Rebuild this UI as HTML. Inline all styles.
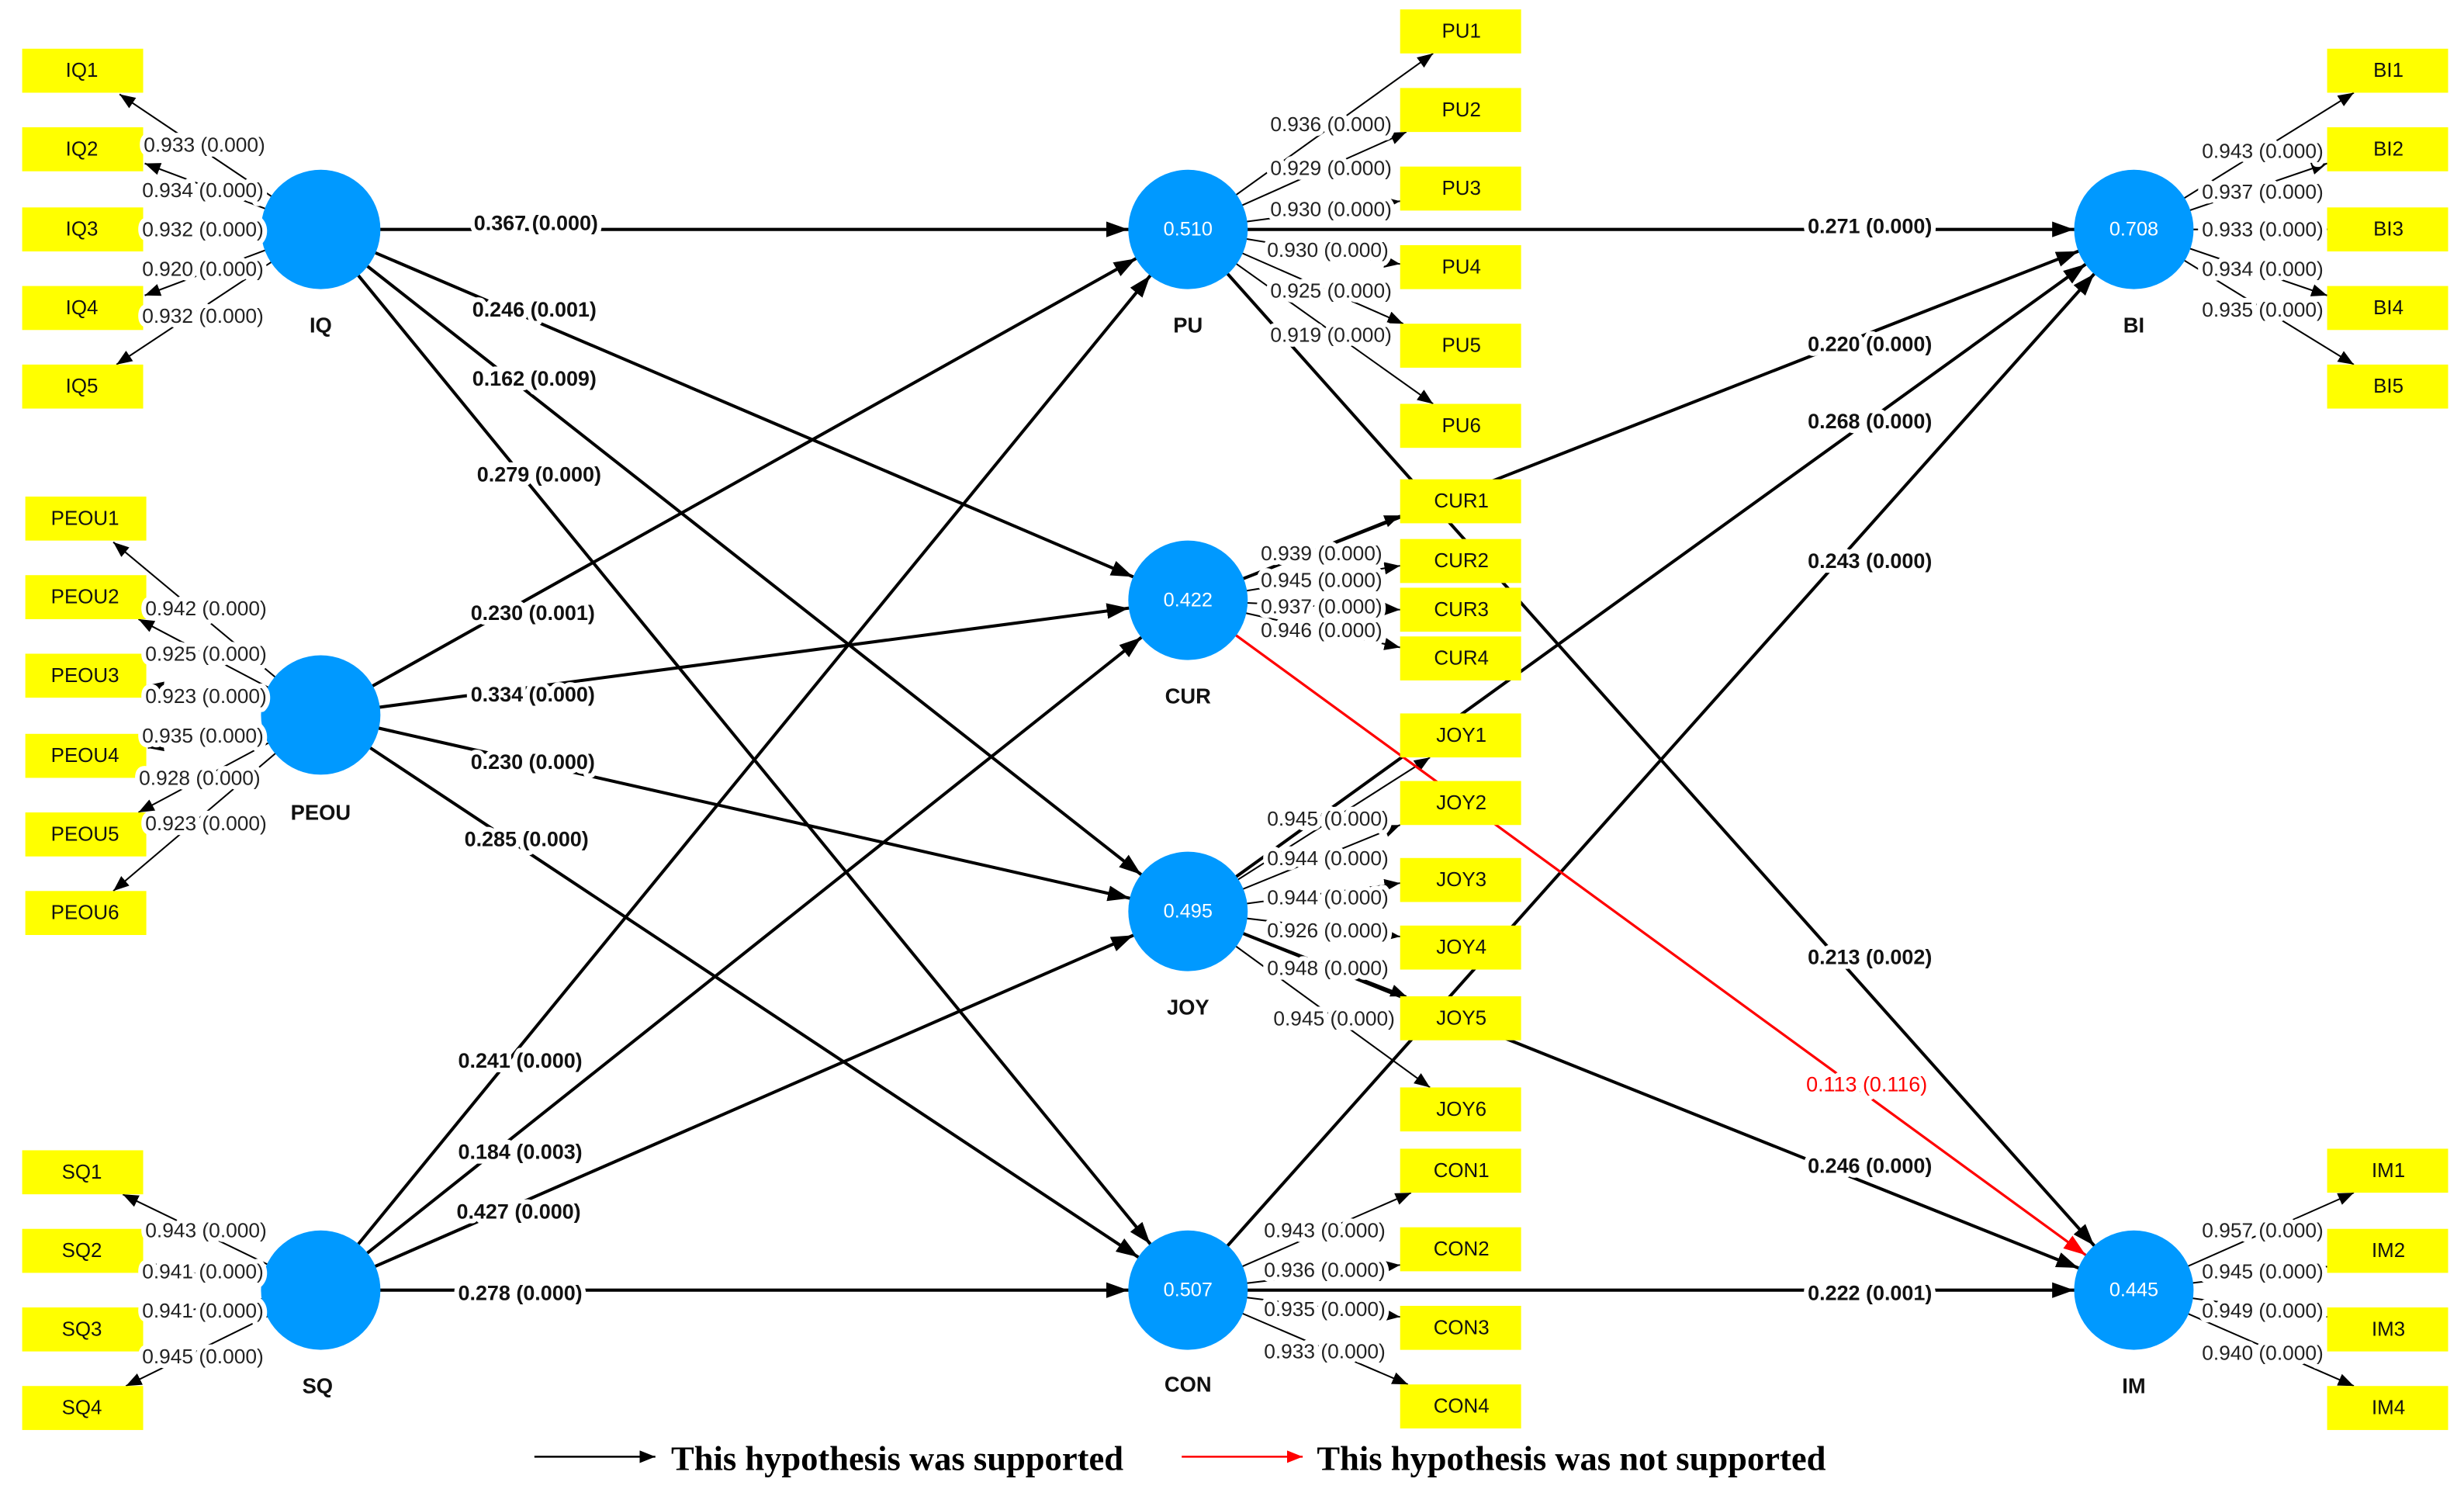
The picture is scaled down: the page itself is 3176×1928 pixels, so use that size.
<!DOCTYPE html>
<html><head><meta charset="utf-8"><style>
html,body{margin:0;padding:0;background:#fff}
svg{display:block}
.bx{fill:#ffff00}
.bt{font-family:"Liberation Sans",sans-serif;font-size:12.8px;fill:#111;text-anchor:middle;dominant-baseline:central}
.ld{font-family:"Liberation Sans",sans-serif;font-size:13px;fill:#222;text-anchor:middle;dominant-baseline:central;stroke:#fff;stroke-width:6px;stroke-linejoin:round;paint-order:stroke}
.pl{font-family:"Liberation Sans",sans-serif;font-size:13.3px;font-weight:bold;fill:#111;text-anchor:middle;dominant-baseline:central;stroke:#fff;stroke-width:6px;stroke-linejoin:round;paint-order:stroke}
.cl{font-family:"Liberation Sans",sans-serif;font-size:13.5px;font-weight:bold;fill:#111;text-anchor:middle;dominant-baseline:central}
.cv{font-family:"Liberation Sans",sans-serif;font-size:12.5px;fill:#fff;text-anchor:middle;dominant-baseline:central}
.p{stroke:#000;stroke-width:2;fill:none;marker-end:url(#ab)}
.r{stroke:#f00;stroke-width:1.6;fill:none;marker-end:url(#ar)}
.l{stroke:#000;stroke-width:1;fill:none;marker-end:url(#al)}
.lg{font-family:"Liberation Serif",serif;font-size:22px;font-weight:bold;fill:#000;dominant-baseline:central}
</style></head><body>
<svg width="3176" height="1928" viewBox="0 0 1568 952" xmlns="http://www.w3.org/2000/svg">
<defs>
<marker id="ab" markerUnits="userSpaceOnUse" markerWidth="60" markerHeight="12" refX="52" refY="5" orient="auto"><path d="M0,0 L14,5 L0,10 z" fill="#000"/></marker>
<marker id="ar" markerUnits="userSpaceOnUse" markerWidth="60" markerHeight="12" refX="52" refY="5" orient="auto"><path d="M0,0 L14,5 L0,10 z" fill="#f00"/></marker>
<marker id="al" markerUnits="userSpaceOnUse" markerWidth="12" markerHeight="10" refX="10" refY="4" orient="auto"><path d="M0,0 L10,4 L0,8 z" fill="#000"/></marker>
<marker id="lb" markerUnits="userSpaceOnUse" markerWidth="12" markerHeight="10" refX="10" refY="4" orient="auto"><path d="M0,0 L10,4 L0,8 z" fill="#000"/></marker>
<marker id="lr" markerUnits="userSpaceOnUse" markerWidth="12" markerHeight="10" refX="10" refY="4" orient="auto"><path d="M0,0 L10,4 L0,8 z" fill="#f00"/></marker>
</defs>

<g class="lines">
<line class="l" x1="204" y1="146" x2="76" y2="60"/>
<line class="l" x1="204" y1="146" x2="92" y2="104"/>
<line class="l" x1="204" y1="146" x2="92" y2="146"/>
<line class="l" x1="204" y1="146" x2="92" y2="188"/>
<line class="l" x1="204" y1="146" x2="74" y2="232"/>

<line class="l" x1="204" y1="455" x2="72" y2="345"/>
<line class="l" x1="204" y1="455" x2="88" y2="394"/>
<line class="l" x1="204" y1="455" x2="94" y2="436"/>
<line class="l" x1="204" y1="455" x2="94" y2="476"/>
<line class="l" x1="204" y1="455" x2="88" y2="517"/>
<line class="l" x1="204" y1="455" x2="72" y2="567"/>

<line class="l" x1="204" y1="821" x2="78" y2="760"/>
<line class="l" x1="204" y1="821" x2="92" y2="806"/>
<line class="l" x1="204" y1="821" x2="92" y2="838"/>
<line class="l" x1="204" y1="821" x2="80" y2="882"/>

<line class="l" x1="756" y1="146" x2="912" y2="34"/>
<line class="l" x1="756" y1="146" x2="895" y2="84"/>
<line class="l" x1="756" y1="146" x2="891" y2="128"/>
<line class="l" x1="756" y1="146" x2="891" y2="168"/>
<line class="l" x1="756" y1="146" x2="893" y2="206"/>
<line class="l" x1="756" y1="146" x2="912" y2="257"/>

<line class="l" x1="756" y1="382" x2="891" y2="328"/>
<line class="l" x1="756" y1="382" x2="891" y2="360"/>
<line class="l" x1="756" y1="382" x2="891" y2="388"/>
<line class="l" x1="756" y1="382" x2="891" y2="412"/>

<line class="l" x1="756" y1="580" x2="910" y2="482"/>
<line class="l" x1="756" y1="580" x2="891" y2="525"/>
<line class="l" x1="756" y1="580" x2="891" y2="562"/>
<line class="l" x1="756" y1="580" x2="891" y2="596"/>
<line class="l" x1="756" y1="580" x2="895" y2="634"/>
<line class="l" x1="756" y1="580" x2="910" y2="692"/>

<line class="l" x1="756" y1="821" x2="898" y2="759"/>
<line class="l" x1="756" y1="821" x2="891" y2="805"/>
<line class="l" x1="756" y1="821" x2="891" y2="838"/>
<line class="l" x1="756" y1="821" x2="896" y2="881"/>

<line class="l" x1="1358" y1="146" x2="1498" y2="59"/>
<line class="l" x1="1358" y1="146" x2="1481" y2="104"/>
<line class="l" x1="1358" y1="146" x2="1481" y2="146"/>
<line class="l" x1="1358" y1="146" x2="1481" y2="188"/>
<line class="l" x1="1358" y1="146" x2="1498" y2="232"/>

<line class="l" x1="1358" y1="821" x2="1498" y2="759"/>
<line class="l" x1="1358" y1="821" x2="1481" y2="806"/>
<line class="l" x1="1358" y1="821" x2="1481" y2="838"/>
<line class="l" x1="1358" y1="821" x2="1498" y2="882"/>
</g>

<line class="p" x1="204" y1="146" x2="756" y2="146"/>
<line class="p" x1="204" y1="146" x2="756" y2="382"/>
<line class="p" x1="204" y1="146" x2="756" y2="580"/>
<line class="p" x1="204" y1="146" x2="756" y2="821"/>
<line class="p" x1="204" y1="455" x2="756" y2="146"/>
<line class="p" x1="204" y1="455" x2="756" y2="382"/>
<line class="p" x1="204" y1="455" x2="756" y2="580"/>
<line class="p" x1="204" y1="455" x2="756" y2="821"/>
<line class="p" x1="204" y1="821" x2="756" y2="146"/>
<line class="p" x1="204" y1="821" x2="756" y2="382"/>
<line class="p" x1="204" y1="821" x2="756" y2="580"/>
<line class="p" x1="204" y1="821" x2="756" y2="821"/>
<line class="p" x1="756" y1="146" x2="1358" y2="146"/>
<line class="p" x1="756" y1="382" x2="1358" y2="146"/>
<line class="p" x1="756" y1="580" x2="1358" y2="146"/>
<line class="p" x1="756" y1="821" x2="1358" y2="146"/>
<line class="p" x1="756" y1="146" x2="1358" y2="821"/>
<line class="r" x1="756" y1="382" x2="1358" y2="821"/>
<line class="p" x1="756" y1="580" x2="1358" y2="821"/>
<line class="p" x1="756" y1="821" x2="1358" y2="821"/>

<g>
<rect class="bx" x="14" y="31" width="77" height="28"/><text class="bt" x="52" y="45">IQ1</text>
<rect class="bx" x="14" y="81" width="77" height="28"/><text class="bt" x="52" y="95">IQ2</text>
<rect class="bx" x="14" y="132" width="77" height="28"/><text class="bt" x="52" y="146">IQ3</text>
<rect class="bx" x="14" y="182" width="77" height="28"/><text class="bt" x="52" y="196">IQ4</text>
<rect class="bx" x="14" y="232" width="77" height="28"/><text class="bt" x="52" y="246">IQ5</text>

<rect class="bx" x="16" y="316" width="77" height="28"/><text class="bt" x="54" y="330">PEOU1</text>
<rect class="bx" x="16" y="366" width="77" height="28"/><text class="bt" x="54" y="380">PEOU2</text>
<rect class="bx" x="16" y="416" width="77" height="28"/><text class="bt" x="54" y="430">PEOU3</text>
<rect class="bx" x="16" y="467" width="77" height="28"/><text class="bt" x="54" y="481">PEOU4</text>
<rect class="bx" x="16" y="517" width="77" height="28"/><text class="bt" x="54" y="531">PEOU5</text>
<rect class="bx" x="16" y="567" width="77" height="28"/><text class="bt" x="54" y="581">PEOU6</text>

<rect class="bx" x="14" y="732" width="77" height="28"/><text class="bt" x="52" y="746">SQ1</text>
<rect class="bx" x="14" y="782" width="77" height="28"/><text class="bt" x="52" y="796">SQ2</text>
<rect class="bx" x="14" y="832" width="77" height="28"/><text class="bt" x="52" y="846">SQ3</text>
<rect class="bx" x="14" y="882" width="77" height="28"/><text class="bt" x="52" y="896">SQ4</text>

<rect class="bx" x="891" y="6" width="77" height="28"/><text class="bt" x="930" y="20">PU1</text>
<rect class="bx" x="891" y="56" width="77" height="28"/><text class="bt" x="930" y="70">PU2</text>
<rect class="bx" x="891" y="106" width="77" height="28"/><text class="bt" x="930" y="120">PU3</text>
<rect class="bx" x="891" y="156" width="77" height="28"/><text class="bt" x="930" y="170">PU4</text>
<rect class="bx" x="891" y="206" width="77" height="28"/><text class="bt" x="930" y="220">PU5</text>
<rect class="bx" x="891" y="257" width="77" height="28"/><text class="bt" x="930" y="271">PU6</text>

<rect class="bx" x="891" y="305" width="77" height="28"/><text class="bt" x="930" y="319">CUR1</text>
<rect class="bx" x="891" y="343" width="77" height="28"/><text class="bt" x="930" y="357">CUR2</text>
<rect class="bx" x="891" y="374" width="77" height="28"/><text class="bt" x="930" y="388">CUR3</text>
<rect class="bx" x="891" y="405" width="77" height="28"/><text class="bt" x="930" y="419">CUR4</text>

<rect class="bx" x="891" y="454" width="77" height="28"/><text class="bt" x="930" y="468">JOY1</text>
<rect class="bx" x="891" y="497" width="77" height="28"/><text class="bt" x="930" y="511">JOY2</text>
<rect class="bx" x="891" y="546" width="77" height="28"/><text class="bt" x="930" y="560">JOY3</text>
<rect class="bx" x="891" y="589" width="77" height="28"/><text class="bt" x="930" y="603">JOY4</text>
<rect class="bx" x="891" y="634" width="77" height="28"/><text class="bt" x="930" y="648">JOY5</text>
<rect class="bx" x="891" y="692" width="77" height="28"/><text class="bt" x="930" y="706">JOY6</text>

<rect class="bx" x="891" y="731" width="77" height="28"/><text class="bt" x="930" y="745">CON1</text>
<rect class="bx" x="891" y="781" width="77" height="28"/><text class="bt" x="930" y="795">CON2</text>
<rect class="bx" x="891" y="831" width="77" height="28"/><text class="bt" x="930" y="845">CON3</text>
<rect class="bx" x="891" y="881" width="77" height="28"/><text class="bt" x="930" y="895">CON4</text>

<rect class="bx" x="1481" y="31" width="77" height="28"/><text class="bt" x="1520" y="45">BI1</text>
<rect class="bx" x="1481" y="81" width="77" height="28"/><text class="bt" x="1520" y="95">BI2</text>
<rect class="bx" x="1481" y="132" width="77" height="28"/><text class="bt" x="1520" y="146">BI3</text>
<rect class="bx" x="1481" y="182" width="77" height="28"/><text class="bt" x="1520" y="196">BI4</text>
<rect class="bx" x="1481" y="232" width="77" height="28"/><text class="bt" x="1520" y="246">BI5</text>

<rect class="bx" x="1481" y="731" width="77" height="28"/><text class="bt" x="1520" y="745">IM1</text>
<rect class="bx" x="1481" y="782" width="77" height="28"/><text class="bt" x="1520" y="796">IM2</text>
<rect class="bx" x="1481" y="832" width="77" height="28"/><text class="bt" x="1520" y="846">IM3</text>
<rect class="bx" x="1481" y="882" width="77" height="28"/><text class="bt" x="1520" y="896">IM4</text>
</g>

<g fill="#0099ff">
<circle cx="204" cy="146" r="38"/><circle cx="204" cy="455" r="38"/><circle cx="204" cy="821" r="38"/>
<circle cx="756" cy="146" r="38"/><circle cx="756" cy="382" r="38"/><circle cx="756" cy="580" r="38"/><circle cx="756" cy="821" r="38"/>
<circle cx="1358" cy="146" r="38"/><circle cx="1358" cy="821" r="38"/>
</g>
<text class="cv" x="756" y="146">0.510</text>
<text class="cv" x="756" y="382">0.422</text>
<text class="cv" x="756" y="580">0.495</text>
<text class="cv" x="756" y="821">0.507</text>
<text class="cv" x="1358" y="146">0.708</text>
<text class="cv" x="1358" y="821">0.445</text>

<text class="cl" x="204" y="207">IQ</text>
<text class="cl" x="204" y="517">PEOU</text>
<text class="cl" x="202" y="882">SQ</text>
<text class="cl" x="756" y="207">PU</text>
<text class="cl" x="756" y="443">CUR</text>
<text class="cl" x="756" y="641">JOY</text>
<text class="cl" x="756" y="881">CON</text>
<text class="cl" x="1358" y="207">BI</text>
<text class="cl" x="1358" y="882">IM</text>

<text class="pl" x="341" y="142">0.367 (0.000)</text>
<text class="pl" x="340" y="197">0.246 (0.001)</text>
<text class="pl" x="340" y="241">0.162 (0.009)</text>
<text class="pl" x="343" y="302">0.279 (0.000)</text>
<text class="pl" x="339" y="390">0.230 (0.001)</text>
<text class="pl" x="339" y="442">0.334 (0.000)</text>
<text class="pl" x="339" y="485">0.230 (0.000)</text>
<text class="pl" x="335" y="534">0.285 (0.000)</text>
<text class="pl" x="331" y="675">0.241 (0.000)</text>
<text class="pl" x="331" y="733">0.184 (0.003)</text>
<text class="pl" x="330" y="771">0.427 (0.000)</text>
<text class="pl" x="331" y="823">0.278 (0.000)</text>
<text class="pl" x="1190" y="144">0.271 (0.000)</text>
<text class="pl" x="1190" y="219">0.220 (0.000)</text>
<text class="pl" x="1190" y="268">0.268 (0.000)</text>
<text class="pl" x="1190" y="357">0.243 (0.000)</text>
<text class="pl" x="1190" y="609">0.213 (0.002)</text>
<text class="pl" x="1188" y="690" style="fill:#f00;font-weight:normal">0.113 (0.116)</text>
<text class="pl" x="1190" y="742">0.246 (0.000)</text>
<text class="pl" x="1190" y="823">0.222 (0.001)</text>

<text class="ld" x="130" y="92">0.933 (0.000)</text>
<text class="ld" x="129" y="121">0.934 (0.000)</text>
<text class="ld" x="129" y="146">0.932 (0.000)</text>
<text class="ld" x="129" y="171">0.920 (0.000)</text>
<text class="ld" x="129" y="201">0.932 (0.000)</text>

<text class="ld" x="131" y="387">0.942 (0.000)</text>
<text class="ld" x="131" y="416">0.925 (0.000)</text>
<text class="ld" x="131" y="443">0.923 (0.000)</text>
<text class="ld" x="129" y="468">0.935 (0.000)</text>
<text class="ld" x="127" y="495">0.928 (0.000)</text>
<text class="ld" x="131" y="524">0.923 (0.000)</text>

<text class="ld" x="131" y="783">0.943 (0.000)</text>
<text class="ld" x="129" y="809">0.941 (0.000)</text>
<text class="ld" x="129" y="834">0.941 (0.000)</text>
<text class="ld" x="129" y="863">0.945 (0.000)</text>

<text class="ld" x="847" y="79">0.936 (0.000)</text>
<text class="ld" x="847" y="107">0.929 (0.000)</text>
<text class="ld" x="847" y="133">0.930 (0.000)</text>
<text class="ld" x="845" y="159">0.930 (0.000)</text>
<text class="ld" x="847" y="185">0.925 (0.000)</text>
<text class="ld" x="847" y="213">0.919 (0.000)</text>

<text class="ld" x="841" y="352">0.939 (0.000)</text>
<text class="ld" x="841" y="369">0.945 (0.000)</text>
<text class="ld" x="841" y="386">0.937 (0.000)</text>
<text class="ld" x="841" y="401">0.946 (0.000)</text>

<text class="ld" x="845" y="521">0.945 (0.000)</text>
<text class="ld" x="845" y="546">0.944 (0.000)</text>
<text class="ld" x="845" y="571">0.944 (0.000)</text>
<text class="ld" x="845" y="592">0.926 (0.000)</text>
<text class="ld" x="845" y="616">0.948 (0.000)</text>
<text class="ld" x="849" y="648">0.945 (0.000)</text>

<text class="ld" x="843" y="783">0.943 (0.000)</text>
<text class="ld" x="843" y="808">0.936 (0.000)</text>
<text class="ld" x="843" y="833">0.935 (0.000)</text>
<text class="ld" x="843" y="860">0.933 (0.000)</text>

<text class="ld" x="1440" y="96">0.943 (0.000)</text>
<text class="ld" x="1440" y="122">0.937 (0.000)</text>
<text class="ld" x="1440" y="146">0.933 (0.000)</text>
<text class="ld" x="1440" y="171">0.934 (0.000)</text>
<text class="ld" x="1440" y="197">0.935 (0.000)</text>

<text class="ld" x="1440" y="783">0.957 (0.000)</text>
<text class="ld" x="1440" y="809">0.945 (0.000)</text>
<text class="ld" x="1440" y="834">0.949 (0.000)</text>
<text class="ld" x="1440" y="861">0.940 (0.000)</text>

<line x1="340" y1="927" x2="417" y2="927" stroke="#000" stroke-width="1.2" marker-end="url(#lb)"/>
<text class="lg" x="427" y="928">This hypothesis was supported</text>
<line x1="752" y1="927" x2="829" y2="927" stroke="#f00" stroke-width="1.2" marker-end="url(#lr)"/>
<text class="lg" x="838" y="928">This hypothesis was not supported</text>
</svg>
</body></html>
